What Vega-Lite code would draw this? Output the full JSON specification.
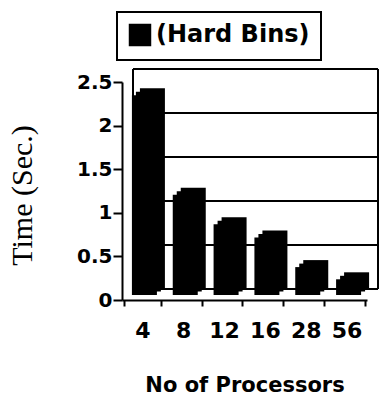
{
  "$schema": "https://vega.github.io/schema/vega-lite/v6.json",
  "autosize": "none",
  "width": 256,
  "height": 231,
  "padding": {"left": 122, "top": 69, "right": 5, "bottom": 103},
  "background": "white",
  "config": {"view": {"stroke": null}, "legend": {"strokeWidth": 2}},
  "datasets": {
    "bars": [
      {"procs": "4", "time": 2.29, "series": "(Hard Bins)"},
      {"procs": "8", "time": 1.15, "series": "(Hard Bins)"},
      {"procs": "12", "time": 0.81, "series": "(Hard Bins)"},
      {"procs": "16", "time": 0.66, "series": "(Hard Bins)"},
      {"procs": "28", "time": 0.32, "series": "(Hard Bins)"},
      {"procs": "56", "time": 0.18, "series": "(Hard Bins)"}
    ],
    "grid": [{"v": 0}, {"v": 0.5}, {"v": 1}, {"v": 1.5}, {"v": 2}, {"v": 2.5}],
    "walls": [{"edge": 0}, {"edge": 1}]
  },
  "layer": [
    {
      "data": {"name": "grid"},
      "mark": {"type": "rule", "color": "black", "strokeWidth": 2},
      "encoding": {
        "y": {"field": "v", "type": "quantitative", "scale": {"domain": [0, 2.5], "range": [220, 0], "nice": false, "zero": false}, "axis": null},
        "x": {"datum": 0, "type": "quantitative", "scale": {"domain": [0, 1], "range": [11, 256], "nice": false, "zero": false}, "axis": null},
        "x2": {"datum": 1}
      }
    },
    {
      "data": {"name": "walls"},
      "mark": {"type": "rule", "color": "black", "strokeWidth": 2},
      "encoding": {
        "x": {"field": "edge", "type": "quantitative", "scale": {"domain": [0, 1], "range": [11, 256], "nice": false, "zero": false}, "axis": null},
        "y": {"datum": 0, "type": "quantitative", "scale": {"domain": [0, 2.5], "range": [220, 0], "nice": false, "zero": false}, "axis": null},
        "y2": {"datum": 2.5}
      }
    },
    {
      "data": {"name": "bars"},
      "mark": {"type": "bar", "color": "black", "width": 25, "xOffset": 10, "yOffset": -12, "y2Offset": -12},
      "encoding": {
        "x": {"field": "procs", "type": "ordinal", "sort": null, "scale": {"range": [0, 245]}, "axis": null},
        "y": {"field": "time", "type": "quantitative", "scale": {"domain": [0, 2.5], "range": [231, 13], "nice": false}, "axis": null}
      }
    },
    {
      "data": {"name": "bars"},
      "mark": {"type": "bar", "color": "black", "width": 25, "xOffset": 6, "yOffset": -8.5, "y2Offset": -8.5},
      "encoding": {
        "x": {"field": "procs", "type": "ordinal", "sort": null, "scale": {"range": [0, 245]}, "axis": null},
        "y": {"field": "time", "type": "quantitative", "scale": {"domain": [0, 2.5], "range": [231, 13], "nice": false}, "axis": null}
      }
    },
    {
      "data": {"name": "bars"},
      "mark": {"type": "bar", "width": 25, "xOffset": 2, "yOffset": -5, "y2Offset": -5},
      "encoding": {
        "x": {
          "field": "procs", "type": "ordinal", "sort": null, "scale": {"range": [0, 245]},
          "axis": {
            "title": "No of Processors", "titleFont": "DejaVu Sans", "titleFontSize": 21, "titleFontWeight": "bold", "titleColor": "black", "titlePadding": 33,
            "labelAngle": 0, "labelFont": "DejaVu Sans", "labelFontSize": 22, "labelFontWeight": "bold", "labelColor": "black", "labelPadding": 14,
            "domainColor": "black", "domainWidth": 2, "tickColor": "black", "tickSize": 6, "tickWidth": 2, "tickBand": "extent"
          }
        },
        "y": {
          "field": "time", "type": "quantitative",
          "scale": {"domain": [0, 2.5], "range": [231, 13], "nice": false},
          "axis": {
            "values": [0, 0.5, 1, 1.5, 2, 2.5], "format": "~g",
            "title": "Time (Sec.)", "titleFont": "Liberation Serif", "titleFontSize": 30, "titleFontWeight": "normal", "titleColor": "black",
            "titleX": -100, "titleY": 126, "titleAngle": -90, "titleAlign": "center", "titleBaseline": "middle",
            "labelFont": "DejaVu Sans", "labelFontSize": 20, "labelFontWeight": "bold", "labelColor": "black", "labelPadding": 1,
            "domainColor": "black", "domainWidth": 2, "tickColor": "black", "tickSize": 9, "tickWidth": 2,
            "grid": false
          }
        },
        "color": {
          "field": "series", "type": "nominal",
          "scale": {"range": ["black"]},
          "legend": {
            "title": null, "orient": "none", "legendX": -5, "legendY": -57,
            "symbolType": "square", "symbolSize": 440, "symbolFillColor": "black", "symbolStrokeColor": "black",
            "labelFont": "DejaVu Sans", "labelFontSize": 24, "labelFontWeight": "bold", "labelColor": "black", "labelOffset": 4,
            "strokeColor": "black", "padding": 11, "fillColor": "white"
          }
        }
      }
    }
  ],
  "resolve": {"scale": {"x": "independent", "y": "independent"}}
}
